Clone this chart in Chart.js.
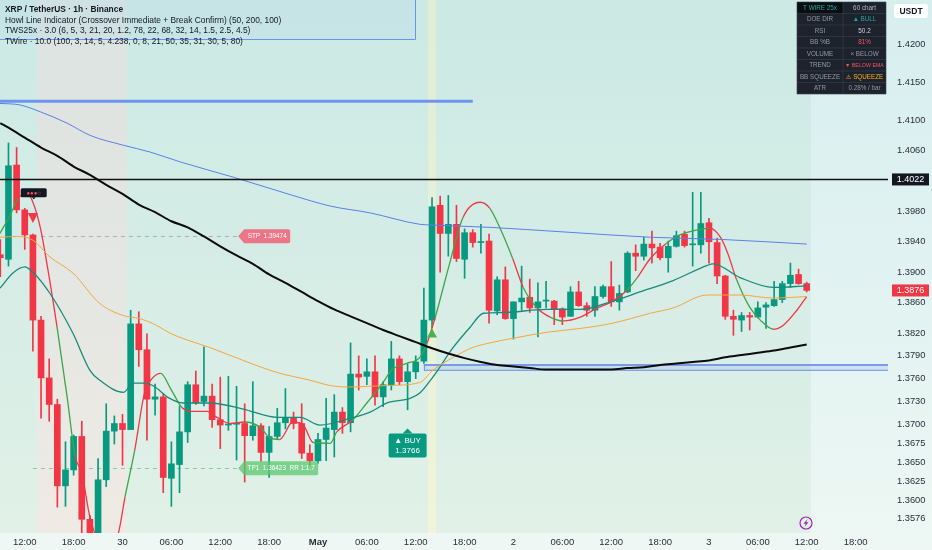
<!DOCTYPE html>
<html><head><meta charset="utf-8">
<script src="https://cdn.jsdelivr.net/npm/chart.js@4.4.1/dist/chart.umd.min.js"></script>
<style>html,body{margin:0;padding:0;background:#e6f4f2;}#wrap{width:932px;height:550px;}canvas{display:block}</style>
</head><body><div id="wrap"><canvas id="c" width="932" height="550"></canvas></div>
<script>
// ---------- DATA ----------
const hours = [9,10,11,12,13,14,15,16,17,18,19,20,21,22,23,24,25,26,27,28,29,30,31,32,33,34,35,36,37,38,39,40,41,42,43,44,45,46,47,48,49,50,51,52,53,54,55,56,57,58,59,60,61,62,63,64,65,66,67,68,69,70,71,72,73,74,75,76,77,78,79,80,81,82,83,84,85,86,87,88,89,90,91,92,93,94,95,96,97,98,99,100,101,102,103,104,105,106,107,108];
const opens = [
1.3923,1.3917,1.4041,1.3982,1.3949,1.3837,1.3761,1.3726,1.3619,1.3640,
1.3684,1.3575,1.3550,1.3627,1.3691,1.3701,1.3693,1.3832,1.3798,1.3733,
1.3736,1.3629,1.3647,1.3690,1.3752,1.3730,1.3737,1.3706,1.3699,1.3700,
1.3701,1.3685,1.3698,1.3663,1.3684,1.3702,1.3709,1.3701,1.3662,1.3652,
1.3680,1.3693,1.3716,1.3702,1.3766,1.3763,1.3769,1.3736,1.3752,1.3786,
1.3756,1.3769,1.3783,1.3837,1.3988,1.3951,1.3963,1.3917,1.3952,1.3939,
1.3941,1.3849,1.3890,1.3839,1.3861,1.3867,1.3853,1.3862,1.3862,1.3852,
1.3842,1.3874,1.3856,1.3850,1.3868,1.3881,1.3861,1.3874,1.3925,1.3921,
1.3937,1.3933,1.3919,1.3934,1.3950,1.3936,1.3936,1.3965,1.3939,1.3895,
1.3842,1.3837,1.3843,1.3841,1.3854,1.3856,1.3864,1.3885,1.3897,1.3885];
const highs = [
1.3943,1.4070,1.4064,1.3984,1.3950,1.3842,1.3786,1.3733,1.3677,1.3686,
1.3704,1.3580,1.3655,1.3727,1.3711,1.3713,1.3850,1.3848,1.3819,1.3753,
1.3740,1.3677,1.3724,1.3756,1.3770,1.3802,1.3753,1.3762,1.3763,1.3750,
1.3727,1.3756,1.3701,1.3697,1.3721,1.3747,1.3716,1.3727,1.3673,1.3688,
1.3734,1.3739,1.3722,1.3807,1.3790,1.3786,1.3790,1.3756,1.3809,1.3790,
1.3780,1.3790,1.3879,1.3998,1.4000,1.4001,1.3988,1.3957,1.3956,1.3963,
1.3950,1.3894,1.3907,1.3861,1.3908,1.3891,1.3886,1.3888,1.3863,1.3853,
1.3881,1.3888,1.3860,1.3881,1.3883,1.3914,1.3883,1.3927,1.3936,1.3946,
1.3954,1.3938,1.3941,1.3954,1.3954,1.4005,1.4005,1.3971,1.3945,1.3896,
1.3850,1.3847,1.3847,1.3861,1.3860,1.3888,1.3888,1.3912,1.3904,1.3887];
const lows = [
1.3894,1.3908,1.3978,1.3930,1.3796,1.3708,1.3704,1.3591,1.3592,1.3633,
1.3556,1.3530,1.3540,1.3618,1.3674,1.3646,1.3693,1.3776,1.3679,1.3712,
1.3610,1.3592,1.3610,1.3676,1.3726,1.3724,1.3696,1.3668,1.3692,1.3653,
1.3624,1.3679,1.3651,1.3630,1.3681,1.3694,1.3694,1.3655,1.3646,1.3649,
1.3652,1.3657,1.3688,1.3690,1.3745,1.3752,1.3725,1.3723,1.3745,1.3752,
1.3719,1.3760,1.3780,1.3827,1.3900,1.3921,1.3914,1.3892,1.3933,1.3925,
1.3833,1.3844,1.3838,1.3812,1.3850,1.3847,1.3815,1.3853,1.3831,1.3831,
1.3842,1.3855,1.3842,1.3842,1.3866,1.3855,1.3850,1.3873,1.3902,1.3916,
1.3912,1.3916,1.3900,1.3933,1.3933,1.3908,1.3925,1.3912,1.3885,1.3838,
1.3817,1.3822,1.3824,1.3840,1.3826,1.3855,1.3860,1.3880,1.3884,1.3874];
const closes = [
1.3919,1.4040,1.3982,1.3949,1.3837,1.3761,1.3726,1.3619,1.3640,1.3684,
1.3575,1.3550,1.3627,1.3691,1.3701,1.3693,1.3832,1.3798,1.3733,1.3736,
1.3630,1.3648,1.3690,1.3752,1.3728,1.3737,1.3706,1.3699,1.3700,1.3701,
1.3685,1.3698,1.3663,1.3684,1.3702,1.3709,1.3701,1.3662,1.3652,1.3680,
1.3695,1.3716,1.3702,1.3766,1.3762,1.3769,1.3736,1.3752,1.3786,1.3756,
1.3769,1.3782,1.3837,1.3986,1.3951,1.3963,1.3918,1.3952,1.3939,1.3940,
1.3850,1.3890,1.3839,1.3861,1.3866,1.3853,1.3861,1.3863,1.3852,1.3841,
1.3874,1.3856,1.3850,1.3868,1.3881,1.3861,1.3872,1.3925,1.3921,1.3937,
1.3932,1.3919,1.3934,1.3948,1.3935,1.3937,1.3964,1.3940,1.3895,1.3842,
1.3838,1.3843,1.3841,1.3853,1.3857,1.3864,1.3885,1.3896,1.3885,1.3876];

// Howl slow line (black)
const blackX = [9,10,12,14,16,18,20,22,24,26,28,30,32,34,36,38,40,42,44,46,48,50,52,54,56,58,60,62,64,66,68,70,72,74,76,78,80,82,84,86,88,90,92,94,96,98,100,102,104,106,108];
const blackY = [1.4096,1.4090,1.4077,1.4064,1.4053,1.4039,1.4028,1.4015,1.4003,1.3989,1.3979,1.3967,1.3959,1.3947,1.3934,1.3922,1.3911,1.3897,1.3886,1.3874,1.3862,1.3851,1.3842,1.3833,1.3824,1.3816,1.3808,1.3800,1.3793,1.3787,1.3782,1.3778,1.3776,1.3774,1.3772,1.3772,1.3772,1.3772,1.3772,1.3774,1.3775,1.3778,1.3780,1.3782,1.3784,1.3788,1.3791,1.3794,1.3797,1.3801,1.3805];
// blue line
const blueX = [8.96,11.4,13.9,17.2,20.0,24.1,27.4,31.1,37.6,44.9,49.5,54.4,60.5,62.1,69.1,78.1,88.8,97.7,108.0];
const blueY = [1.4122,1.4120,1.4111,1.4096,1.4080,1.4067,1.4058,1.4045,1.4025,1.4001,1.3987,1.3978,1.3963,1.3962,1.3959,1.3953,1.3946,1.3943,1.3937];
// orange line
const orangeX = [8.96,11.0,13.0,15.1,17.9,21.2,24.1,26.1,28.2,29.8,31.9,34.7,38.8,43.0,47.0,49.5,51.6,56.5,60.5,62.1,64.6,67.0,69.1,71.9,76.1,80.2,84.2,88.8,91.6,95.8,99.8,103.9,108.0];
const orangeY = [1.3946,1.3947,1.3942,1.3920,1.3899,1.3859,1.3843,1.3839,1.3830,1.3820,1.3811,1.3801,1.3784,1.3768,1.3758,1.3751,1.3749,1.3751,1.3755,1.3771,1.3788,1.3801,1.3807,1.3813,1.3821,1.3826,1.3833,1.3846,1.3853,1.3870,1.3870,1.3866,1.3868];
// teal line
const tealX = [8.96,10.55,12.0,13.0,15.1,17.9,20.0,21.2,24.1,25.3,26.5,27.7,29.8,31.4,34.7,38.8,43.0,45.8,48.25,52.3,54.4,56.5,59.3,60.5,62.1,64.6,66.7,68.3,70.7,76.1,80.2,84.2,87.5,91.6,95.8,96.5,99.8,103.9,108.0];
const tealY = [1.3879,1.3899,1.3907,1.3900,1.3872,1.3820,1.3771,1.3758,1.3742,1.3754,1.3754,1.3751,1.3734,1.3728,1.3728,1.3720,1.3709,1.3709,1.3699,1.3709,1.3716,1.3728,1.3734,1.3741,1.3762,1.3801,1.3828,1.3846,1.3847,1.3851,1.3851,1.3862,1.3874,1.3889,1.3909,1.3911,1.3893,1.3880,1.3882];
// fast line (two-colour)
const fastX = [8.96,10.2,11.2,12.3,13.0,13.9,14.85,15.96,17.2,18.2,19.0,20.0,21.5,23.4,24.3,25.5,26.7,27.7,28.7,29.9,31.3,32.5,34.4,35.6,37.2,39.0,40.9,42.1,43.3,44.9,46.2,47.4,49.5,50.3,52.2,54.0,56.0,57.1,58.9,60.5,61.4,62.4,64.2,65.8,67.9,69.1,70.3,71.9,73.2,74.9,76.5,78.1,80.2,82.3,84.2,85.9,87.2,88.8,90.8,92.4,94.3,96.1,97.4,98.3,99.4,101.0,102.3,103.9,105.1,106.8,108.0];
const fastY = [1.3951,1.3975,1.3997,1.4004,1.3992,1.3959,1.3903,1.3828,1.3736,1.3657,1.3636,1.3578,1.3540,1.3554,1.3604,1.3666,1.3741,1.3761,1.3767,1.3747,1.3722,1.3717,1.3717,1.3709,1.3701,1.3703,1.3696,1.3682,1.3680,1.3703,1.3699,1.3676,1.3675,1.3690,1.3705,1.3728,1.3755,1.3772,1.3780,1.3788,1.3807,1.3841,1.3913,1.3972,1.3992,1.3984,1.3959,1.3918,1.3880,1.3853,1.3841,1.3836,1.3841,1.3853,1.3862,1.3876,1.3893,1.3918,1.3938,1.3949,1.3955,1.3958,1.3946,1.3925,1.3890,1.3854,1.3837,1.3825,1.3830,1.3850,1.3868];
const fastDir = ("GGRRRRRGGR"+"RRRRGRRRGG"+"RRRRRGGGRR"+"RGGRGGGGGG"+"RGGRRGGRGR"+"GRRRRGRRGG"+"GRRRGGGRRR").split("");

// background zones (bar-hour ranges)
const bgFrom = [8.5, 13.5, 24.5, 61.5, 62.5];
const bgTo   = [13.5, 24.5, 61.5, 62.5, 108.5];
const bgKind = ['bull','bear','bull','signal','bull'];

// levels
const resistance = 1.4022;
const blueLevel = 1.4125, blueLevelTo = 67.0;
const zoneTop = 1.3778, zoneBottom = 1.3771, zoneFrom = 61.0;
const stopPrice = 1.39474, tpPrice = 1.36423, levelFrom = 13.0, tagHour = 38.2;
const buyHour = 59.0, buyPrice = 1.3688;
const sellMarkHour = 13, sellMarkPrice = 1.3978;
const buyMarkHour = 62, buyMarkPrice = 1.3826;
const starHour = 13.1, starPrice = 1.4004;

// ticks
const yTicks = [1.4200,1.4150,1.4100,1.4060,1.3980,1.3940,1.3900,1.3860,1.3820,1.3790,1.3760,1.3730,1.3700,1.3675,1.3650,1.3625,1.3600,1.3576];
const xTickHours = [12,18,24,30,36,42,48,54,60,66,72,78,84,90,96,102,108,114];
const xTickLabels = ["12:00","18:00","30","06:00","12:00","18:00","May","06:00","12:00","18:00","2","06:00","12:00","18:00","3","06:00","12:00","18:00"];

const headerLines = [
 "XRP / TetherUS · 1h · Binance",
 "Howl Line Indicator (Crossover Immediate + Break Confirm) (50, 200, 100)",
 "TWS25x · 3.0 (6, 5, 3, 21, 20, 1.2, 78, 22, 68, 32, 14, 1.5, 2.5, 4.5)",
 "TWire · 10.0 (100, 3, 14, 5, 4.238, 0, 8, 21, 50, 35, 31, 30, 5, 80)"];
const tableKeys = ['T WIRE 25x','DOE DIR','RSI','BB %B','VOLUME','TREND','BB SQUEEZE','ATR'];
const tableVals = ['60 chart','▲ BULL','50.2','81%','× BELOW','▼ BELOW EMA','⚠ SQUEEZE','0.28% / bar'];
const tableValColors = ['#b2b5be','#26a69a','#d1d4dc','#f7525f','#9598a1','#f7525f','#ffb020','#9598a1'];

// ---------- CHART ----------
const GREEN = '#089981', RED = '#f23645';
const candleColors = hours.map((h,i)=> closes[i] >= opens[i] ? GREEN : RED);
const pts = (xs, ys) => xs.map((x,i)=>({x, y: ys[i]}));
const FONT = "'Liberation Sans', 'DejaVu Sans', sans-serif";
Chart.defaults.font.family = FONT;

const zoneColor = {bull:'rgba(76,175,80,0.07)', bear:'rgba(255,150,125,0.12)', signal:'rgba(250,240,140,0.24)'};

function fitText(ctx, text, x, y, maxW, size){
  let s = size; ctx.font = s + 'px ' + FONT;
  while (ctx.measureText(text).width > maxW && s > 4) { s -= 0.2; ctx.font = s + 'px ' + FONT; }
  ctx.fillText(text, x, y);
}
function tag(ctx, x, y, w, h, fill, text){
  ctx.beginPath();
  ctx.moveTo(x, y); ctx.lineTo(x+6, y-h/2); ctx.lineTo(x+w-2, y-h/2);
  ctx.quadraticCurveTo(x+w, y-h/2, x+w, y-h/2+2); ctx.lineTo(x+w, y+h/2-2);
  ctx.quadraticCurveTo(x+w, y+h/2, x+w-2, y+h/2); ctx.lineTo(x+6, y+h/2); ctx.closePath();
  ctx.fillStyle = fill; ctx.fill();
  ctx.fillStyle = '#ffffff'; ctx.textAlign='center'; ctx.textBaseline='middle';
  fitText(ctx, text, x + 3 + w/2, y + 0.5, w - 12, 7.2);
}

const decor = {
  id:'decor',
  beforeDraw(chart){
    const {ctx, width, height, chartArea:a} = chart;
    const xs = chart.scales.x;
    ctx.save();
    const g = ctx.createLinearGradient(0,0,0,height);
    g.addColorStop(0,'#d7eeef'); g.addColorStop(0.55,'#e2f3f2'); g.addColorStop(1,'#eef7f3');
    ctx.fillStyle = g; ctx.fillRect(0,0,width,height);
    for (let i=0;i<bgFrom.length;i++){
      const x0 = xs.getPixelForValue(bgFrom[i]), x1 = xs.getPixelForValue(bgTo[i]);
      ctx.fillStyle = zoneColor[bgKind[i]];
      ctx.fillRect(x0, a.top, x1-x0, a.bottom-a.top);
    }
    ctx.restore();
  },
  beforeDatasetsDraw(chart){
    const {ctx, chartArea:a} = chart; const xs = chart.scales.x, ys = chart.scales.y;
    ctx.save(); ctx.beginPath(); ctx.rect(a.left,a.top,a.right-a.left,a.bottom-a.top); ctx.clip();
    const zx = xs.getPixelForValue(zoneFrom), zt = ys.getPixelForValue(zoneTop), zb = ys.getPixelForValue(zoneBottom);
    ctx.fillStyle='rgba(120,150,235,0.18)'; ctx.fillRect(zx, zt, a.right-zx+2, zb-zt);
    ctx.strokeStyle='rgba(110,145,235,0.75)'; ctx.lineWidth=2; ctx.beginPath(); ctx.moveTo(zx,zt); ctx.lineTo(a.right+2,zt); ctx.stroke();
    ctx.strokeStyle='#6b8ee8'; ctx.lineWidth=1; ctx.strokeRect(zx+0.5, zt, a.right-zx+2, zb-zt);
    const lx0 = xs.getPixelForValue(levelFrom), lx1 = xs.getPixelForValue(tagHour);
    ctx.setLineDash([4,4]); ctx.lineWidth=1;
    ctx.strokeStyle='rgba(140,140,140,0.6)'; const sy = Math.round(ys.getPixelForValue(stopPrice))+0.5;
    ctx.beginPath(); ctx.moveTo(lx0,sy); ctx.lineTo(lx1,sy); ctx.stroke();
    ctx.strokeStyle='rgba(90,170,110,0.6)'; const ty = Math.round(ys.getPixelForValue(tpPrice))+0.5;
    ctx.beginPath(); ctx.moveTo(lx0,ty); ctx.lineTo(lx1,ty); ctx.stroke();
    ctx.setLineDash([]);
    ctx.restore();
  },
  afterDatasetsDraw(chart){
    const {ctx, chartArea:a} = chart; const xs = chart.scales.x, ys = chart.scales.y;
    ctx.save(); ctx.beginPath(); ctx.rect(a.left,a.top,a.right-a.left,a.bottom-a.top); ctx.clip();
    const by = ys.getPixelForValue(blueLevel);
    ctx.strokeStyle='rgba(95,140,240,0.9)'; ctx.lineWidth=3;
    ctx.beginPath(); ctx.moveTo(a.left,by); ctx.lineTo(xs.getPixelForValue(blueLevelTo),by); ctx.stroke();
    const ry = ys.getPixelForValue(resistance);
    ctx.strokeStyle='#111'; ctx.lineWidth=1.5;
    ctx.beginPath(); ctx.moveTo(a.left,ry); ctx.lineTo(a.right,ry); ctx.stroke();
    const tx = xs.getPixelForValue(tagHour);
    tag(ctx, tx, ys.getPixelForValue(stopPrice), 52, 14, 'rgba(242,90,115,0.82)', 'STP  1.39474');
    tag(ctx, tx, ys.getPixelForValue(tpPrice), 80, 14, 'rgba(90,200,110,0.75)', 'TP1  1.36423  RR 1:1.7');
    const bx = xs.getPixelForValue(buyHour), bt = ys.getPixelForValue(buyPrice);
    ctx.fillStyle = GREEN;
    ctx.beginPath(); ctx.moveTo(bx-5, bt); ctx.lineTo(bx, bt-5); ctx.lineTo(bx+5, bt); ctx.closePath(); ctx.fill();
    ctx.beginPath(); ctx.roundRect(bx-19, bt, 38, 24, 2); ctx.fill();
    ctx.fillStyle='#fff'; ctx.font='8px '+FONT; ctx.textAlign='center'; ctx.textBaseline='middle';
    ctx.fillText('▲ BUY', bx, bt+7); ctx.fillText('1.3766', bx, bt+17);
    const sx = xs.getPixelForValue(sellMarkHour), st = ys.getPixelForValue(sellMarkPrice);
    ctx.fillStyle = RED; ctx.beginPath(); ctx.moveTo(sx-5, st); ctx.lineTo(sx+5, st); ctx.lineTo(sx, st+10); ctx.closePath(); ctx.fill();
    const ux = xs.getPixelForValue(buyMarkHour), ut = ys.getPixelForValue(buyMarkPrice);
    ctx.fillStyle = '#4caf50'; ctx.beginPath(); ctx.moveTo(ux, ut); ctx.lineTo(ux+5, ut+9); ctx.lineTo(ux-5, ut+9); ctx.closePath(); ctx.fill();
    const kx = xs.getPixelForValue(starHour), ky = ys.getPixelForValue(starPrice);
    ctx.fillStyle='#131722'; ctx.beginPath(); ctx.roundRect(kx-13, ky-5, 26, 9, 1.5); ctx.fill();
    ctx.beginPath(); ctx.moveTo(kx-2, ky+4); ctx.lineTo(kx, ky+6); ctx.lineTo(kx+2, ky+4); ctx.fill();
    ctx.fillStyle='#f7525f'; ctx.font='6px '+FONT; ctx.fillText('●●●○', kx, ky);
    ctx.restore();
  },
  afterDraw(chart){
    const {ctx, width, chartArea:a} = chart; const ys = chart.scales.y;
    ctx.save();
    ctx.fillStyle='rgba(185,222,232,0.35)'; ctx.fillRect(0,0,415,39);
    ctx.strokeStyle='#6a93ea'; ctx.lineWidth=1;
    ctx.beginPath(); ctx.moveTo(415.5,0); ctx.lineTo(415.5,39.5); ctx.lineTo(0,39.5); ctx.stroke();
    ctx.fillStyle='#131722'; ctx.textAlign='left'; ctx.textBaseline='middle';
    headerLines.forEach((t,i)=>{ ctx.font=(i===0?'bold ':'')+'8.4px '+FONT; ctx.fillText(t, 5, 9.5 + i*10.7); });
    const tl = a.right - 91, tt = 2, cw0 = 46, cw1 = 43, rh = 11.5;
    ctx.fillStyle='rgba(19,23,34,0.95)'; ctx.fillRect(tl, tt, cw0+cw1, rh*8);
    ctx.fillStyle='#0a0d12'; ctx.fillRect(tl, tt, cw0, rh);
    ctx.strokeStyle='#3a3f4b'; ctx.lineWidth=0.6;
    for (let r=0;r<=8;r++){ ctx.beginPath(); ctx.moveTo(tl, tt+r*rh); ctx.lineTo(tl+cw0+cw1, tt+r*rh); ctx.stroke(); }
    [0,cw0,cw0+cw1].forEach(c=>{ ctx.beginPath(); ctx.moveTo(tl+c, tt); ctx.lineTo(tl+c, tt+8*rh); ctx.stroke(); });
    ctx.textAlign='center';
    tableKeys.forEach((k,r)=>{
      ctx.fillStyle = r===0 ? '#26a69a' : '#9598a1';
      fitText(ctx, k, tl+cw0/2, tt+r*rh+rh/2+0.5, cw0-4, 6.3);
      ctx.fillStyle = tableValColors[r];
      fitText(ctx, tableVals[r], tl+cw0+cw1/2, tt+r*rh+rh/2+0.5, cw1-4, 6.3);
    });
    const bx0 = a.right + 4, bw = width - bx0 - 3;
    ctx.font='9px '+FONT; ctx.textAlign='center';
    [[resistance,'#131722'],[closes[closes.length-1], RED]].forEach(([v,c])=>{
      const y = ys.getPixelForValue(v);
      ctx.fillStyle=c; ctx.fillRect(bx0, y-6, bw, 12);
      ctx.fillStyle='#fff'; ctx.fillText(v.toFixed(4), bx0+bw/2, y+0.5);
    });
    ctx.fillStyle='#ffffff'; ctx.beginPath(); ctx.roundRect(a.right+6, 4, 34, 14, 3); ctx.fill();
    ctx.fillStyle='#131722'; ctx.font='bold 8.5px '+FONT; ctx.fillText('USDT', a.right+23, 11.5);
    const lx = a.right - 82, ly = a.bottom - 10;
    ctx.strokeStyle='#9c27b0'; ctx.lineWidth=1.2; ctx.beginPath(); ctx.arc(lx, ly, 6, 0, Math.PI*2); ctx.stroke();
    ctx.fillStyle='#9c27b0'; ctx.beginPath();
    ctx.moveTo(lx+1.5, ly-4); ctx.lineTo(lx-2.5, ly+0.8); ctx.lineTo(lx-0.2, ly+0.8); ctx.lineTo(lx-1.5, ly+4); ctx.lineTo(lx+2.5, ly-0.8); ctx.lineTo(lx+0.2, ly-0.8); ctx.closePath(); ctx.fill();
    ctx.restore();
  }
};

new Chart(document.getElementById('c'), {
  type:'bar',
  data:{
    datasets:[
      {type:'line', label:'Howl slow', data:pts(blackX,blackY), borderColor:'#0b0b0b', borderWidth:2, pointRadius:0, cubicInterpolationMode:'monotone', order:0},
      {type:'line', label:'Blue', data:pts(blueX,blueY), borderColor:'#5b80e6', borderWidth:1, pointRadius:0, cubicInterpolationMode:'monotone', order:0},
      {type:'line', label:'Orange', data:pts(orangeX,orangeY), borderColor:'#f6a63c', borderWidth:1, pointRadius:0, cubicInterpolationMode:'monotone', order:0},
      {type:'line', label:'Teal', data:pts(tealX,tealY), borderColor:'#178c7c', borderWidth:1.3, pointRadius:0, cubicInterpolationMode:'monotone', order:0},
      {type:'line', label:'Fast', data:pts(fastX,fastY), borderColor:RED, borderWidth:1.3, pointRadius:0, cubicInterpolationMode:'monotone', order:0,
        segment:{borderColor: c => fastDir[c.p0DataIndex]==='G' ? '#3fa548' : RED}},
      {type:'bar', label:'Body', data:hours.map((h,i)=>({x:h, y:[Math.min(opens[i],closes[i]), Math.max(opens[i],closes[i])]})),
        backgroundColor:candleColors, barThickness:6, minBarLength:1, grouped:false, order:1},
      {type:'bar', label:'Wick', data:hours.map((h,i)=>({x:h, y:[lows[i], highs[i]]})),
        backgroundColor:candleColors, barThickness:1, grouped:false, order:2}
    ]
  },
  options:{
    responsive:false, animation:false, devicePixelRatio:1,
    layout:{padding:0},
    plugins:{legend:{display:false}, tooltip:{enabled:false}},
    scales:{
      x:{type:'linear', min:8.96, max:117.98, offset:false,
        grid:{display:false, drawTicks:false}, border:{display:false},
        afterBuildTicks: s => { s.ticks = xTickHours.map(v=>({value:v})); },
        afterFit: s => { s.height = 17; s.paddingLeft = 0; s.paddingRight = 0; },
        ticks:{autoSkip:false, maxRotation:0, padding:4, color:'#2a2e39',
          font: c => ({size:9.5, weight: xTickLabels[c.index]==='May' ? 'bold' : 'normal'}),
          callback:(v,i)=> xTickLabels[i]}},
      y:{type:'linear', position:'right', min:1.3557, max:1.4258, beginAtZero:false,
        grid:{display:false, drawTicks:false}, border:{display:false},
        afterBuildTicks: s => { s.ticks = yTicks.map(v=>({value:v})); },
        afterFit: s => { s.width = 44; s.paddingTop = 0; s.paddingBottom = 0; },
        ticks:{autoSkip:false, padding:9, color:'#2a2e39', font:{size:9.3}, callback: v => Number(v).toFixed(4)}}
    }
  },
  plugins:[decor]
});
</script>
</body></html>
